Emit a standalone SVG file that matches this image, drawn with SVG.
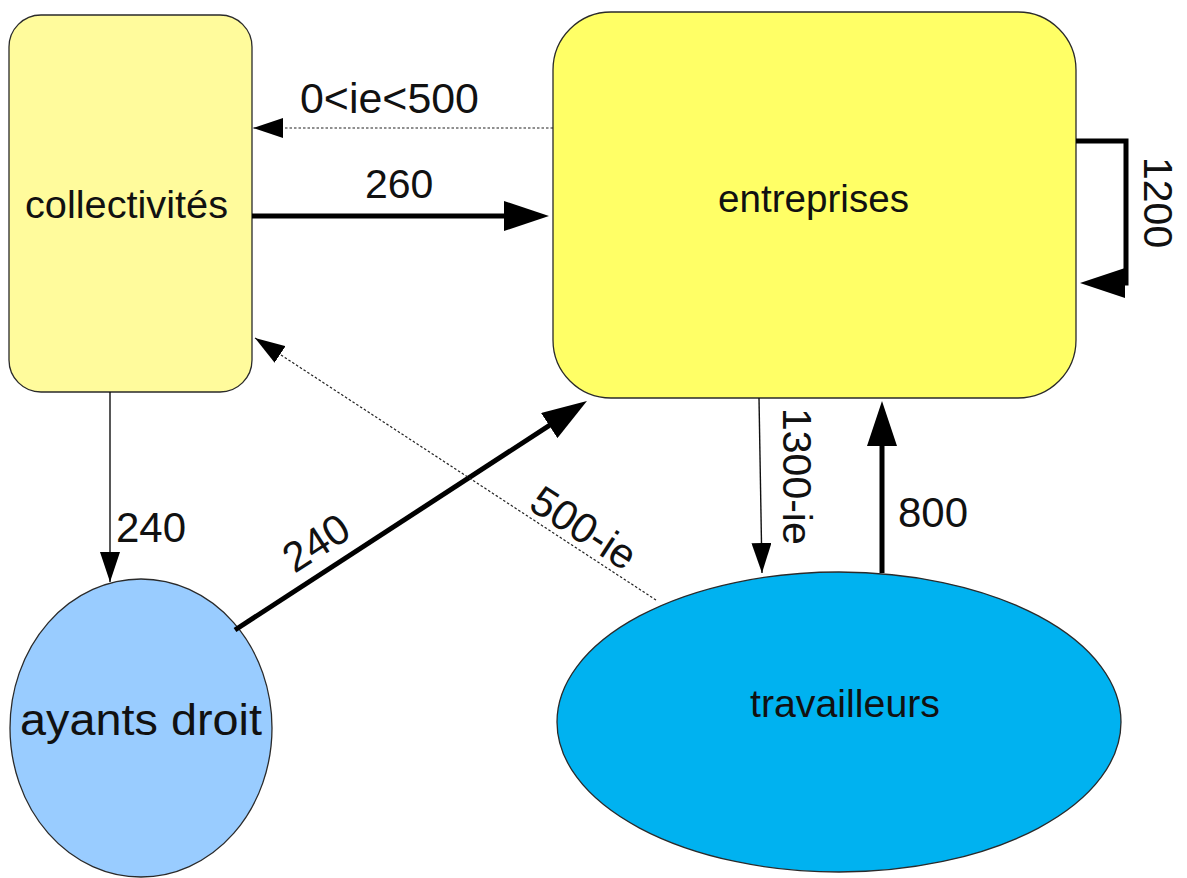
<svg xmlns="http://www.w3.org/2000/svg" width="1187" height="878" viewBox="0 0 1187 878">
  <style>
    .node { stroke: #2a2a2a; stroke-width: 1.3; }
    .lbl { font-family: "Liberation Sans", Arial, sans-serif; fill: #111; }
    .name { font-size: 38px; }
    .num { font-size: 42px; }
    .thick { fill: none; stroke: #000; stroke-width: 5; }
    .thin { fill: none; stroke: #111; stroke-width: 1.4; }
    .dot { fill: none; stroke: #222; stroke-width: 1.2; stroke-dasharray: 2.5 2; }
  </style>
  <defs>
    <!-- large head: tip sits 20px beyond the line end -->
    <marker id="big" markerUnits="userSpaceOnUse" viewBox="0 0 45 30" markerWidth="45" markerHeight="30" refX="25" refY="15" orient="auto">
      <path d="M0,0 L45,15 L0,30 z" fill="#000"/>
    </marker>
    <marker id="small" markerUnits="userSpaceOnUse" viewBox="0 0 30 20" markerWidth="30" markerHeight="20" refX="30" refY="10" orient="auto">
      <path d="M0,0 L30,10 L0,20 z" fill="#000"/>
    </marker>
  </defs>
  <rect width="1187" height="878" fill="#fff"/>

  <g id="collectivites">
    <rect class="node" x="9" y="15" width="243" height="377" rx="32" fill="#fffb9c"/>
    <text class="lbl name" x="25" y="218" textLength="203" lengthAdjust="spacingAndGlyphs">collectivités</text>
  </g>

  <g id="entreprises">
    <rect class="node" x="553" y="12" width="523" height="386" rx="58" fill="#ffff66"/>
    <text class="lbl name" x="718" y="212" textLength="191" lengthAdjust="spacingAndGlyphs">entreprises</text>
  </g>

  <g id="ayants-droit">
    <ellipse class="node" cx="141" cy="728" rx="131" ry="149" fill="#99ccff"/>
    <text class="lbl" style="font-size:44px" x="20" y="735" textLength="242" lengthAdjust="spacingAndGlyphs">ayants droit</text>
  </g>

  <g id="travailleurs">
    <ellipse class="node" cx="839" cy="722" rx="282" ry="150" fill="#00b2f0"/>
    <text class="lbl name" x="750" y="717" textLength="190" lengthAdjust="spacingAndGlyphs">travailleurs</text>
  </g>

  <g id="connectors">
    <!-- entreprises -> collectivites, dotted -->
    <path class="dot" d="M553,128 H253" marker-end="url(#small)"/>
    <!-- collectivites -> entreprises -->
    <path class="thick" d="M252,216 H529" marker-end="url(#big)"/>
    <!-- entreprises self loop -->
    <path class="thick" d="M1076,141 H1126 V283 H1100" marker-end="url(#big)"/>
    <!-- collectivites -> ayants droit -->
    <path class="thin" d="M110,392 V582" marker-end="url(#small)"/>
    <!-- ayants droit -> entreprises -->
    <path class="thick" d="M235,630 L570.2,411.9" marker-end="url(#big)"/>
    <!-- travailleurs -> collectivites, dotted -->
    <path class="dot" d="M656,600 L255,338" marker-end="url(#small)"/>
    <!-- entreprises -> travailleurs -->
    <path class="thin" d="M759,398 L762,573" marker-end="url(#small)"/>
    <!-- travailleurs -> entreprises -->
    <path class="thick" d="M882,573 V421" marker-end="url(#big)"/>

    <text class="lbl num" x="300" y="113" textLength="179" lengthAdjust="spacingAndGlyphs">0&lt;ie&lt;500</text>
    <text class="lbl" style="font-size:41px" x="365" y="198">260</text>
    <text class="lbl num" x="116" y="542">240</text>
    <text class="lbl num" x="898" y="527">800</text>
    <text class="lbl" style="font-size:41px" transform="translate(1144,157) rotate(90)">1200</text>
    <text class="lbl" style="font-size:41px" transform="translate(783,408) rotate(90)">1300-ie</text>
    <text class="lbl num" text-anchor="middle" transform="translate(324,555) rotate(-33)">240</text>
    <text class="lbl num" text-anchor="middle" transform="translate(576,540) rotate(33)">500-ie</text>
  </g>
</svg>
